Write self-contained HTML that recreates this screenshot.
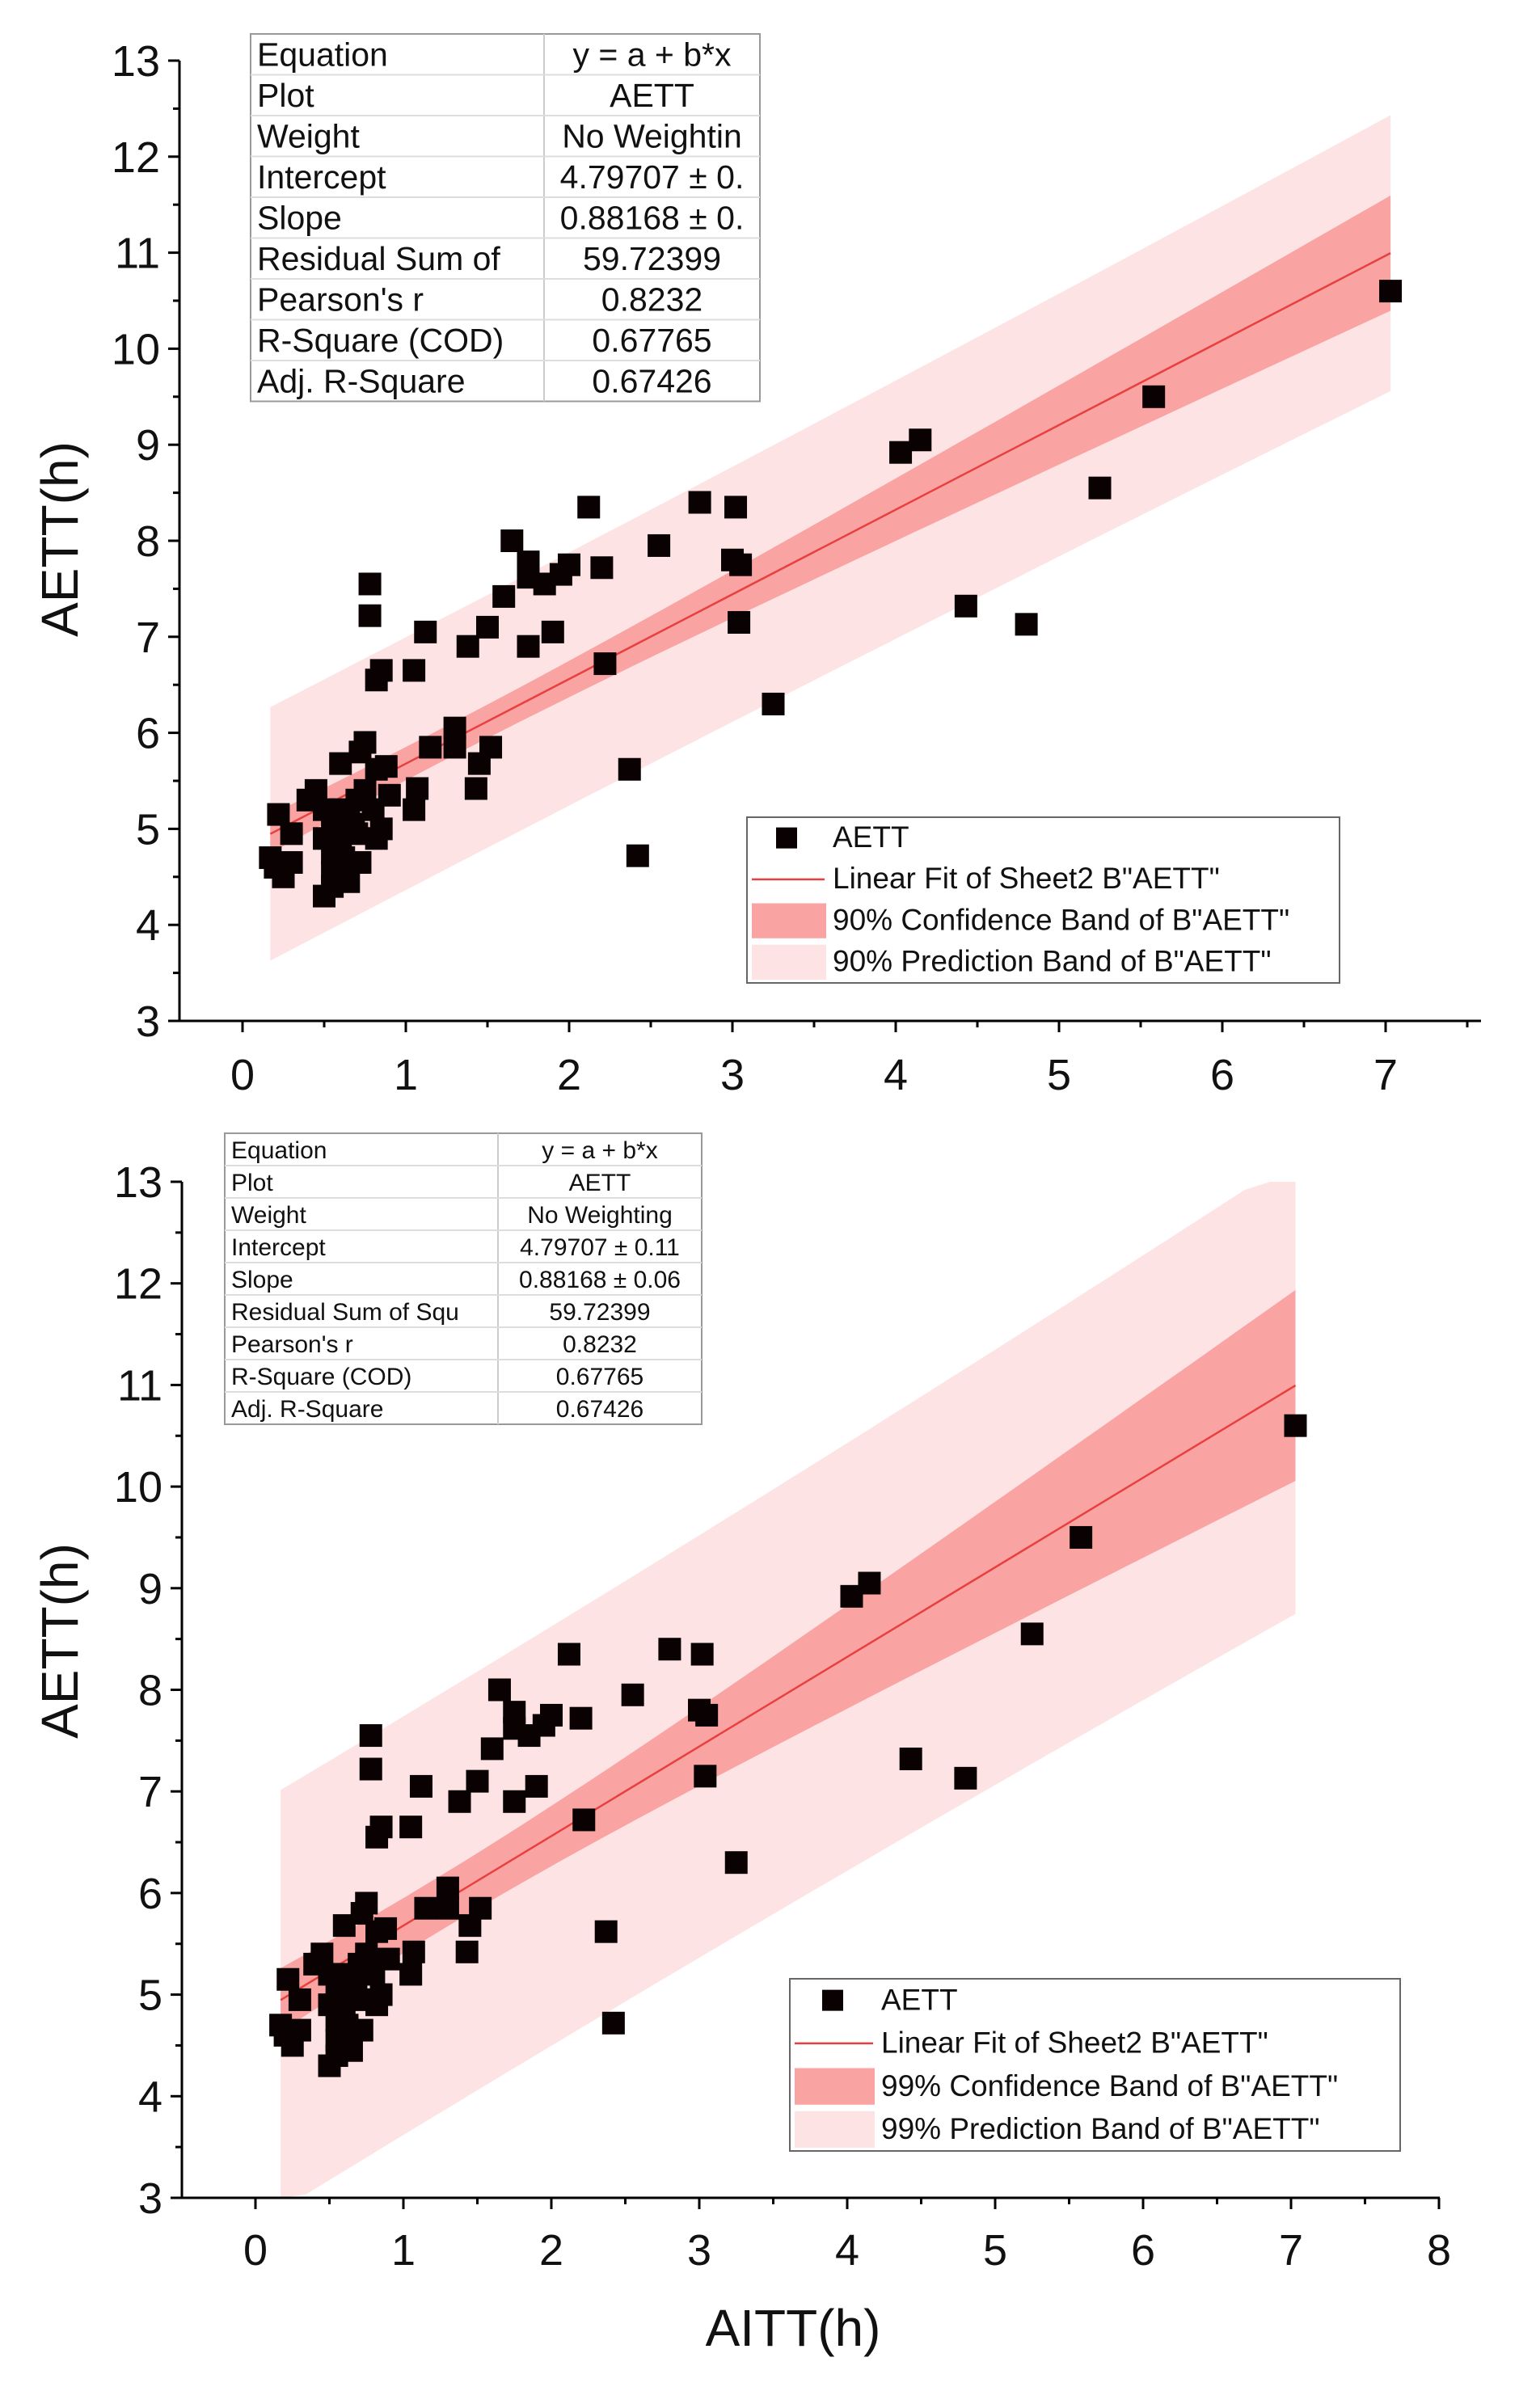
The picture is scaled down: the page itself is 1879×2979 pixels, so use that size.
<!DOCTYPE html>
<html><head><meta charset="utf-8"><style>
html,body{margin:0;padding:0;background:#fff;}
svg{display:block;font-family:"Liberation Sans",Arial,sans-serif;}
</style></head><body>
<svg id="svg" width="1879" height="2979" viewBox="0 0 1879 2979" xmlns="http://www.w3.org/2000/svg"></svg>
<script>
const aitt = [7.03,5.58,5.25,4.8,4.43,4.15,4.03,3.25,3.05,3.0,3.02,3.04,2.8,2.55,2.42,2.37,2.22,2.2,2.12,2.0,1.95,1.9,1.85,1.75,1.75,1.75,1.65,1.6,1.5,1.38,1.52,1.45,1.43,1.3,1.3,1.15,1.12,1.05,1.07,1.05,0.85,0.82,0.78,0.78,0.75,0.72,0.6,0.88,0.82,0.9,0.85,0.82,0.72,0.7,0.65,0.6,0.55,0.5,0.5,0.55,0.6,0.45,0.4,0.3,0.25,0.2,0.17,0.22,0.3,0.55,0.6,0.65,0.7,0.55,0.62,0.5,0.75,0.8,0.68,0.58];
const aett = [10.6,9.5,8.55,7.13,7.32,9.05,8.92,6.3,7.75,7.8,8.35,7.15,8.4,7.95,4.72,5.62,6.72,7.72,8.35,7.75,7.65,7.05,7.55,7.62,7.78,6.9,8.0,7.42,7.1,6.9,5.85,5.68,5.42,6.05,5.85,5.85,7.05,6.65,5.42,5.2,6.65,6.55,7.55,7.22,5.9,5.8,5.68,5.65,5.62,5.35,5.0,4.9,4.65,5.3,4.45,4.6,4.4,4.3,4.9,5.0,5.2,5.4,5.3,4.65,4.5,4.6,4.7,5.15,4.95,4.75,4.85,5.1,4.95,4.55,4.7,5.2,5.4,5.2,5.05,4.95];
const fitIntercept = 4.79707, fitSlope = 0.88168;
const yTicks = [3,4,5,6,7,8,9,10,11,12,13];
const xTicksTop = [0,1,2,3,4,5,6,7];
const xTicksBottom = [0,1,2,3,4,5,6,7,8];
const statLabels = ["Equation","Plot","Weight","Intercept","Slope","Residual Sum of","Pearson's r","R-Square (COD)","Adj. R-Square"];
const statValuesTop = ["y = a + b*x","AETT","No Weightin","4.79707 ± 0.","0.88168 ± 0.","59.72399","0.8232","0.67765","0.67426"];
const statLabelsBottom = ["Equation","Plot","Weight","Intercept","Slope","Residual Sum of Squ","Pearson's r","R-Square (COD)","Adj. R-Square"];
const statValuesBottom = ["y = a + b*x","AETT","No Weighting","4.79707 ± 0.11","0.88168 ± 0.06","59.72399","0.8232","0.67765","0.67426"];

const NS="http://www.w3.org/2000/svg";
const svg=document.getElementById('svg');
function mk(tag,attrs,parent,name,inter){const e=document.createElementNS(NS,tag);for(const k in attrs)e.setAttribute(k,attrs[k]);


(parent||svg).appendChild(e);return e;}

function drawChart(cfg){
  const g=mk('g',{},svg,cfg.id,false);
  const X=v=>cfg.x0+v*cfg.xu, Y=v=>cfg.yb-(v-3)*cfg.yu;
  const xm=1.2, zf=cfg.z;
  const conf=x=>zf*Math.sqrt(0.0297+0.00972*(x-xm)*(x-xm));
  const pred=x=>Math.sqrt((zf*1.305)*(zf*1.305)+conf(x)*conf(x));
  const fit=x=>fitIntercept+fitSlope*x;
  const xa=Math.min(...aitt), xb=Math.max(...aitt);
  const N=40; const xs=[];for(let i=0;i<=N;i++)xs.push(xa+(xb-xa)*i/N);
  const clip=v=>Math.max(3,Math.min(13,v));
  function band(fn,fill,name){let d='M';xs.forEach((x,i)=>{d+=(i?' L':'')+X(x).toFixed(1)+','+Y(clip(fit(x)+fn(x))).toFixed(1);});
    xs.slice().reverse().forEach(x=>{d+=' L'+X(x).toFixed(1)+','+Y(clip(fit(x)-fn(x))).toFixed(1);});d+=' Z';
    mk('path',{d:d,fill:fill,stroke:'none'},g,name,false);}
  band(pred,'#fde3e3','prediction-band');
  band(conf,'#f9a3a3','confidence-band');
  mk('line',{x1:X(xa),y1:Y(fit(xa)),x2:X(xb),y2:Y(fit(xb)),stroke:'#e8403e','stroke-width':2.5},g,'fit-line',false);
  aitt.forEach((x,i)=>{mk('rect',{x:X(x)-14,y:Y(aett[i])-14,width:28,height:28,fill:'#0a0202'},g,'data-point',false);});
  mk('line',{x1:cfg.left,y1:Y(13),x2:cfg.left,y2:cfg.yb,stroke:'#000','stroke-width':3},g,'y-axis-line',false);
  mk('line',{x1:cfg.left,y1:cfg.yb,x2:cfg.right,y2:cfg.yb,stroke:'#000','stroke-width':3},g,'x-axis-line',false);
  yTicks.forEach(t=>{mk('line',{x1:cfg.left-14,y1:Y(t),x2:cfg.left,y2:Y(t),stroke:'#000','stroke-width':3},g,'y-tick',false);
    if(t<13)mk('line',{x1:cfg.left-8,y1:Y(t+0.5),x2:cfg.left,y2:Y(t+0.5),stroke:'#000','stroke-width':3},g,'y-minor-tick',false);
    const tx=mk('text',{x:cfg.left-24,y:Y(t)+19,'text-anchor':'end','font-size':54,fill:'#111'},g,'y-tick-label',false);tx.textContent=t;});
  const xt=cfg.xticks;
  for(let v=-0.5;v<=xt[xt.length-1]+0.6;v+=0.5){const px=X(v);if(px<cfg.left+2||px>cfg.right+2)continue;
    const major=Math.abs(v-Math.round(v))<1e-6;
    mk('line',{x1:px,y1:cfg.yb,x2:px,y2:cfg.yb+(major?14:8),stroke:'#000','stroke-width':3},g,major?'x-tick':'x-minor-tick',false);}
  xt.forEach(t=>{const tx=mk('text',{x:X(t),y:cfg.xlabY,'text-anchor':'middle','font-size':54,fill:'#111'},g,'x-tick-label',false);tx.textContent=t;});
  const yt=mk('text',{x:0,y:0,'text-anchor':'middle','font-size':64,fill:'#111',transform:`translate(${cfg.ytx},${cfg.yty}) rotate(-90)`},g,'y-axis-title',false);yt.textContent='AETT(h)';
  const tb=cfg.table;const tg=mk('g',{},g,'stats-table',false);
  mk('rect',{x:tb.x,y:tb.y,width:tb.w,height:tb.rh*9,fill:'#fff',stroke:'#999','stroke-width':2},tg,'stats-table-frame',false);
  mk('line',{x1:tb.split,y1:tb.y,x2:tb.split,y2:tb.y+tb.rh*9,stroke:'#ccc','stroke-width':2},tg,'stats-column-divider',false);
  tb.labels.forEach((l,i)=>{
    if(i>0)mk('line',{x1:tb.x,y1:tb.y+i*tb.rh,x2:tb.x+tb.w,y2:tb.y+i*tb.rh,stroke:'#ddd','stroke-width':2},tg,'stats-row-divider',false);
    const a=mk('text',{x:tb.x+8,y:tb.y+i*tb.rh+tb.rh*0.78,'font-size':tb.fs,fill:'#111'},tg,'stats-label',false);a.textContent=l;
    const b=mk('text',{x:(tb.split+tb.x+tb.w)/2,y:tb.y+i*tb.rh+tb.rh*0.78,'font-size':tb.fs,'text-anchor':'middle',fill:'#111'},tg,'stats-value',false);b.textContent=tb.values[i];});
  const lg=cfg.legend;const lgg=mk('g',{},g,'legend',false);
  mk('rect',{x:lg.x,y:lg.y,width:lg.w,height:lg.h,fill:'#fff',stroke:'#666','stroke-width':2},lgg,'legend-frame',false);
  const rh=lg.h/4;
  const texts=['AETT','Linear Fit of Sheet2 B"AETT"',lg.pct+'% Confidence Band of B"AETT"',lg.pct+'% Prediction Band of B"AETT"'];
  mk('rect',{x:lg.mx-13,y:lg.y+rh*0.5-13,width:26,height:26,fill:'#0a0202'},lgg,'legend-marker-points',false);
  mk('line',{x1:lg.x+6,y1:lg.y+rh*1.5,x2:lg.tx-10,y2:lg.y+rh*1.5,stroke:'#e8403e','stroke-width':2.5},lgg,'legend-marker-fit',false);
  mk('rect',{x:lg.x+6,y:lg.y+rh*2+4,width:lg.tx-lg.x-14,height:rh-8,fill:'#f9a3a3'},lgg,'legend-marker-confidence',false);
  mk('rect',{x:lg.x+6,y:lg.y+rh*3+4,width:lg.tx-lg.x-14,height:rh-8,fill:'#fde3e3'},lgg,'legend-marker-prediction',false);
  texts.forEach((t,i)=>{const tx=mk('text',{x:lg.tx,y:lg.y+rh*i+rh*0.72,'font-size':lg.fs,fill:'#111'},lgg,'legend-entry',false);tx.textContent=t;});
}

drawChart({id:'chart-90',x0:300,xu:202,yb:1263,yu:118.8,left:222,right:1832,z:1,xticks:xTicksTop,xlabY:1348,ytx:96,yty:667,
  table:{x:310,y:42,w:630,rh:50.5,split:673,fs:41,labels:statLabels,values:statValuesTop},
  legend:{x:924,y:1011,w:733,h:205,mx:973,tx:1030,fs:37,pct:90}});
drawChart({id:'chart-99',x0:316,xu:183,yb:2719,yu:125.7,left:225,right:1781,z:1.565,xticks:xTicksBottom,xlabY:2802,ytx:96,yty:2030,
  table:{x:278,y:1402,w:590,rh:40,split:616,fs:30,labels:statLabelsBottom,values:statValuesBottom},
  legend:{x:977,y:2448,w:755,h:213,mx:1030,tx:1090,fs:37,pct:99}});
const xtitle=mk('text',{x:981,y:2902,'text-anchor':'middle','font-size':64,fill:'#111'},svg,'x-axis-title',false);xtitle.textContent='AITT(h)';
</script>
</body></html>
